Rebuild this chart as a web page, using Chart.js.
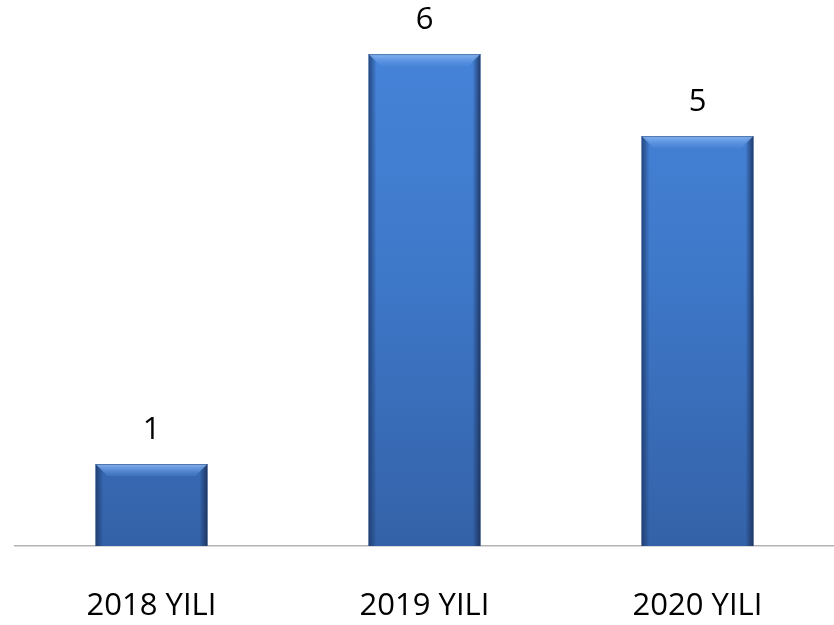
<!DOCTYPE html>
<html>
<head>
<meta charset="utf-8">
<script src="https://cdn.jsdelivr.net/npm/chart.js@4.4.1/dist/chart.umd.min.js"></script>
<style>
  html, body { margin: 0; padding: 0; background: #fff; }
  #wrap { width: 834px; height: 625px; }
</style>
</head>
<body>
<div id="wrap"><canvas id="chart"></canvas></div>
<script>
const categories = ['2018 YILI', '2019 YILI', '2020 YILI'];
const values = [1, 6, 5];

// bevel shading on each bar + value labels above
const barDecor = {
  id: 'barDecor',
  afterDatasetsDraw(chart) {
    const ctx = chart.ctx;
    const meta = chart.getDatasetMeta(0);
    meta.data.forEach((bar, i) => {
      const p = bar.getProps(['x', 'y', 'base', 'width'], true);
      const left = p.x - p.width / 2;
      const right = p.x + p.width / 2;
      const bev = 12;
      ctx.save();
      // darker side edges
      let g = ctx.createLinearGradient(left, 0, left + 8, 0);
      g.addColorStop(0, 'rgba(25,50,95,0.75)');
      g.addColorStop(1, 'rgba(25,50,95,0)');
      ctx.fillStyle = g;
      ctx.fillRect(left, p.y, 8, p.base - p.y);
      g = ctx.createLinearGradient(right, 0, right - 8, 0);
      g.addColorStop(0, 'rgba(25,45,85,0.85)');
      g.addColorStop(1, 'rgba(25,45,85,0)');
      ctx.fillStyle = g;
      ctx.fillRect(right - 8, p.y, 8, p.base - p.y);
      // top bevel highlight
      g = ctx.createLinearGradient(0, p.y, 0, p.y + bev);
      g.addColorStop(0, 'rgba(140,185,245,0.95)');
      g.addColorStop(1, 'rgba(90,145,225,0.25)');
      ctx.fillStyle = g;
      ctx.beginPath();
      ctx.moveTo(left, p.y);
      ctx.lineTo(right, p.y);
      ctx.lineTo(right - bev, p.y + bev);
      ctx.lineTo(left + bev, p.y + bev);
      ctx.closePath();
      ctx.fill();
      ctx.strokeStyle = 'rgba(40,70,120,0.55)';
      ctx.lineWidth = 1;
      ctx.beginPath();
      ctx.moveTo(left, p.y + 0.5);
      ctx.lineTo(right, p.y + 0.5);
      ctx.stroke();
      // value label
      ctx.fillStyle = '#000';
      ctx.font = '31px "Open Sans"';
      ctx.textAlign = 'center';
      ctx.textBaseline = 'middle';
      ctx.fillText(String(values[i]), p.x, p.y - 34);
      ctx.restore();
    });
  }
};

new Chart(document.getElementById('chart'), {
  type: 'bar',
  data: {
    labels: categories,
    datasets: [{
      data: values,
      backgroundColor: (c) => {
        const area = c.chart.chartArea;
        if (!area) return '#3f7bcf';
        const g = c.chart.ctx.createLinearGradient(0, area.top, 0, area.bottom);
        g.addColorStop(0, '#4786dc');
        g.addColorStop(0.5, '#3e78c9');
        g.addColorStop(1, '#3462a8');
        return g;
      },
      borderWidth: 0,
      barPercentage: 0.41,
      categoryPercentage: 1
    }]
  },
  plugins: [barDecor],
  options: {
    responsive: true,
    maintainAspectRatio: false,
    animation: false,
    layout: { padding: { left: 15, right: 0, top: 0, bottom: 0 } },
    plugins: {
      legend: { display: false },
      tooltip: { enabled: false }
    },
    scales: {
      x: {
        grid: { display: false, drawTicks: false },
        border: { display: true, color: '#b4b4b4', width: 1.5 },
        ticks: {
          color: '#000',
          padding: 42,
          font: { family: 'Open Sans', size: 31 }
        },
        afterFit: (scale) => { scale.height = 79; }
      },
      y: {
        display: false,
        min: 0,
        max: 6.66
      }
    }
  }
});
</script>
</body>
</html>
